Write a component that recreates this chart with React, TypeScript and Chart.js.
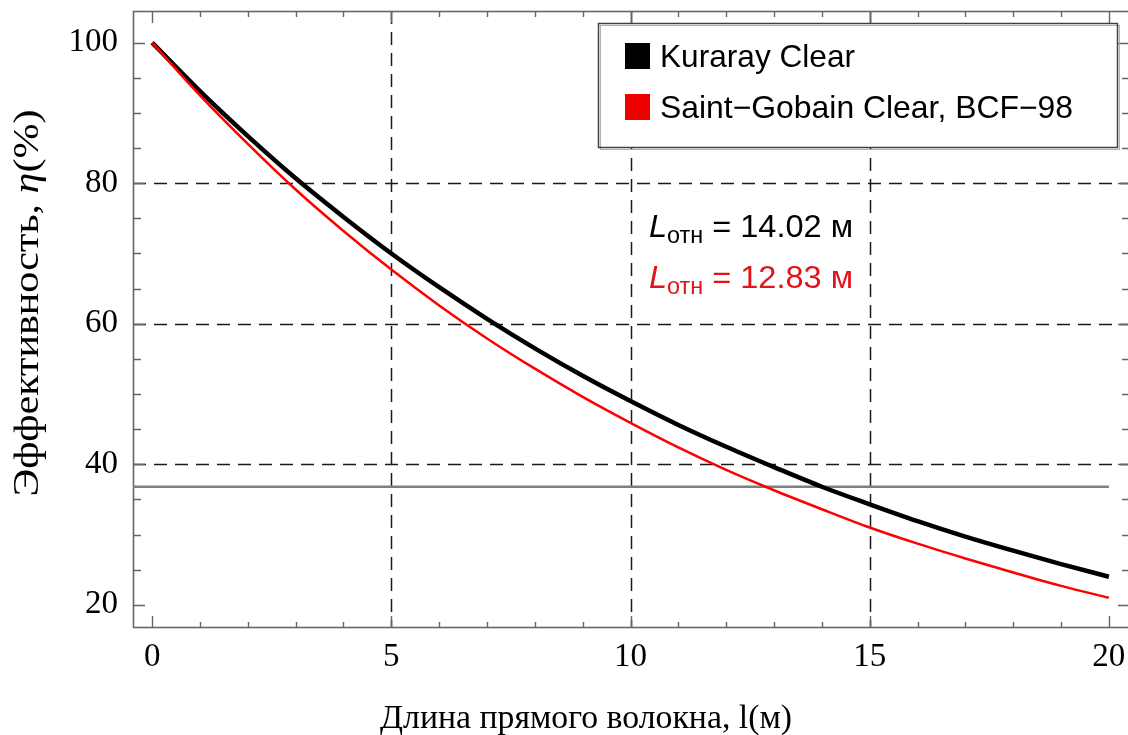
import React, { useEffect, useRef } from "react";
import { Chart, registerables } from "chart.js";

Chart.register(...registerables);

// ---- data ----
const lengths = [0, 1, 2, 3, 4, 5, 6, 7, 8, 9, 10, 11, 12, 13, 14, 15, 16, 17, 18, 19, 20];
const kurarayClear = [100, 93.1, 86.7, 80.7, 75.2, 70.0, 65.2, 60.7, 56.5, 52.6, 49.0, 45.6, 42.5, 39.6, 36.8, 34.3, 31.9, 29.7, 27.7, 25.8, 24.0];
const saintGobainClear = [100, 92.5, 85.6, 79.1, 73.2, 67.7, 62.6, 57.9, 53.6, 49.6, 45.9, 42.4, 39.2, 36.3, 33.6, 31.0, 28.7, 26.6, 24.6, 22.7, 21.0];
const thresholdLevel = 36.8;
const thresholdX = [-0.4, 20];
const seriesNames = ["Kuraray Clear", "Saint\u2212Gobain Clear, BCF\u221298"];
const attenuationLengths = ["14.02", "12.83"];
const xTickLabels = [0, 5, 10, 15, 20];
const yTickLabels = [20, 40, 60, 80, 100];
const xGridLines = [5, 10, 15];
const yGridLines = [40, 60, 80];
const xMinorTicks = [0, 1, 2, 3, 4, 5, 6, 7, 8, 9, 10, 11, 12, 13, 14, 15, 16, 17, 18, 19, 20];
const yMinorTicks = [20, 25, 30, 35, 40, 45, 50, 55, 60, 65, 70, 75, 80, 85, 90, 95, 100];
const xTitle = "Длина прямого волокна, l(м)";
const yTitleParts = ["Эффективность, ", "\u03b7", "(%)"];

const SERIF = '"Liberation Serif", "Times New Roman", serif';
const SANS = '"Liberation Sans", Arial, sans-serif';
const RED = "#ff0000";
const TEXT_RED = "#e0141c";

type Seg = { text: string; font: string; color: string; dy?: number };

function drawSegs(
  ctx: CanvasRenderingContext2D,
  x: number,
  y: number,
  segs: Seg[],
  align: "left" | "center",
  targetWidth?: number
) {
  const widths = segs.map((s) => {
    ctx.font = s.font;
    return ctx.measureText(s.text).width;
  });
  const total = widths.reduce((a, b) => a + b, 0);
  const k = targetWidth ? targetWidth / total : 1;
  ctx.save();
  ctx.translate(x, y);
  ctx.scale(k, 1);
  let cx = align === "center" ? -total / 2 : 0;
  ctx.textAlign = "left";
  ctx.textBaseline = "alphabetic";
  segs.forEach((s, i) => {
    ctx.font = s.font;
    ctx.fillStyle = s.color;
    ctx.fillText(s.text, cx, s.dy || 0);
    cx += widths[i];
  });
  ctx.restore();
}

const framePlugin = {
  id: "frame",
  beforeDatasetsDraw(chart: any) {
    const { ctx, chartArea } = chart;
    const xs = chart.scales.x;
    const ys = chart.scales.y;
    const { left, right, top, bottom } = chartArea;
    ctx.save();
    ctx.strokeStyle = "#1a1a1a";
    ctx.lineWidth = 1.5;
    ctx.setLineDash([13, 8]);
    xGridLines.forEach((v) => {
      const px = Math.round(xs.getPixelForValue(v)) + 0.5;
      ctx.beginPath();
      ctx.moveTo(px, top);
      ctx.lineTo(px, bottom);
      ctx.stroke();
    });
    yGridLines.forEach((v) => {
      const py = Math.round(ys.getPixelForValue(v)) + 0.5;
      ctx.beginPath();
      ctx.moveTo(left, py);
      ctx.lineTo(right, py);
      ctx.stroke();
    });
    ctx.setLineDash([]);
    ctx.strokeStyle = "#666666";
    ctx.lineWidth = 1.6;
    ctx.strokeRect(left + 0.5, top + 0.5, right - left + 2, bottom - top - 1);
    ctx.lineWidth = 1.4;
    xMinorTicks.forEach((v) => {
      const px = Math.round(xs.getPixelForValue(v)) + 0.5;
      const len = v % 5 === 0 ? 12 : 6;
      ctx.beginPath();
      ctx.moveTo(px, bottom);
      ctx.lineTo(px, bottom - len);
      ctx.moveTo(px, top);
      ctx.lineTo(px, top + len);
      ctx.stroke();
    });
    yMinorTicks.forEach((v) => {
      const py = Math.round(ys.getPixelForValue(v)) + 0.5;
      const len = v % 20 === 0 ? 10 : 6;
      ctx.beginPath();
      ctx.moveTo(left, py);
      ctx.lineTo(left + len + 2, py);
      ctx.moveTo(right, py);
      ctx.lineTo(right - len, py);
      ctx.stroke();
    });
    ctx.restore();
  },
  afterDraw(chart: any) {
    const { ctx } = chart;
    ctx.save();
    const bx = 598, by = 23, bw = 519, bh = 124;
    ctx.fillStyle = "#ffffff";
    ctx.fillRect(bx, by, bw, bh);
    ctx.strokeStyle = "#b0b0b0";
    ctx.lineWidth = 1;
    ctx.strokeRect(bx + 2.5, by + 2.5, bw, bh);
    ctx.strokeStyle = "#404040";
    ctx.lineWidth = 1.5;
    ctx.strokeRect(bx + 0.5, by + 0.5, bw, bh);
    const legendColors = ["#000000", "#ee0000"];
    const baselines = [67, 118];
    const legendWidths = [195, 413];
    seriesNames.forEach((name, i) => {
      ctx.fillStyle = legendColors[i];
      ctx.fillRect(625, baselines[i] - 24, 25, 26);
      drawSegs(ctx, 660, baselines[i], [{ text: name, font: `31.5px ${SANS}`, color: "#000" }], "left", legendWidths[i]);
    });
    const annColors = ["#000000", TEXT_RED];
    const annBase = [237, 288];
    attenuationLengths.forEach((val, i) => {
      drawSegs(ctx, 649, annBase[i], [
        { text: "L", font: `italic 32px ${SANS}`, color: annColors[i] },
        { text: "отн", font: `23px ${SANS}`, color: annColors[i], dy: 6 },
        { text: " = " + val + " м", font: `32px ${SANS}`, color: annColors[i] },
      ], "left", 204);
    });
    drawSegs(ctx, 586, 728, [{ text: xTitle, font: `34px ${SERIF}`, color: "#000" }], "center", 412);
    ctx.save();
    ctx.translate(38, 303);
    ctx.rotate(-Math.PI / 2);
    drawSegs(ctx, 0, 0, [
      { text: yTitleParts[0], font: `35px ${SERIF}`, color: "#000" },
      { text: yTitleParts[1], font: `italic 35px ${SERIF}`, color: "#000" },
      { text: yTitleParts[2], font: `35px ${SERIF}`, color: "#000" },
    ], "center", 387);
    ctx.restore();
    ctx.restore();
  },
};

function noPad(s: any) {
  s.paddingTop = 0;
  s.paddingBottom = 0;
  s.paddingLeft = 0;
  s.paddingRight = 0;
}

export default function App() {
  const ref = useRef<HTMLCanvasElement | null>(null);
  useEffect(() => {
    if (!ref.current) return;
    const chart = new Chart(ref.current, {
      type: "line",
      data: {
        datasets: [
          {
            label: seriesNames[1],
            data: lengths.map((x, i) => ({ x, y: saintGobainClear[i] })),
            borderColor: RED,
            borderWidth: 2.5,
            pointRadius: 0,
            cubicInterpolationMode: "monotone",
            order: 0,
          },
          {
            label: seriesNames[0],
            data: lengths.map((x, i) => ({ x, y: kurarayClear[i] })),
            borderColor: "#000000",
            borderWidth: 4.5,
            pointRadius: 0,
            cubicInterpolationMode: "monotone",
            order: 1,
          },
          {
            label: "1/e",
            data: thresholdX.map((x) => ({ x, y: thresholdLevel })),
            borderColor: "#808080",
            borderWidth: 2.5,
            pointRadius: 0,
            order: 2,
          },
        ],
      },
      options: {
        responsive: false,
        animation: false,
        devicePixelRatio: 1,
        layout: { padding: { top: 11, right: 0, left: 0, bottom: 0 } },
        plugins: { legend: { display: false }, tooltip: { enabled: false } },
        scales: {
          x: {
            type: "linear",
            min: -0.4,
            max: 20.4,
            grid: { display: false, drawTicks: false },
            border: { display: false },
            afterBuildTicks: (s: any) => {
              s.ticks = xTickLabels.map((v) => ({ value: v }));
            },
            afterFit: (s: any) => {
              s.height = 107;
              noPad(s);
            },
            ticks: {
              font: { family: SERIF, size: 33 },
              color: "#000",
              padding: 10,
              maxRotation: 0,
              autoSkip: false,
            },
          },
          y: {
            type: "linear",
            min: 16.7,
            max: 104.5,
            grid: { display: false, drawTicks: false },
            border: { display: false },
            afterBuildTicks: (s: any) => {
              s.ticks = yTickLabels.map((v) => ({ value: v }));
            },
            afterFit: (s: any) => {
              s.width = 133;
              noPad(s);
            },
            ticks: {
              font: { family: SERIF, size: 33 },
              color: "#000",
              padding: 15,
              autoSkip: false,
            },
          },
        },
      } as any,
      plugins: [framePlugin],
    });
    return () => chart.destroy();
  }, []);
  return (
    <div style={{ position: "fixed", left: 0, top: 0, width: 1128, height: 735, background: "#fff" }}>
      <canvas ref={ref} width={1128} height={735} style={{ display: "block", width: 1128, height: 735 }} />
    </div>
  );
}
